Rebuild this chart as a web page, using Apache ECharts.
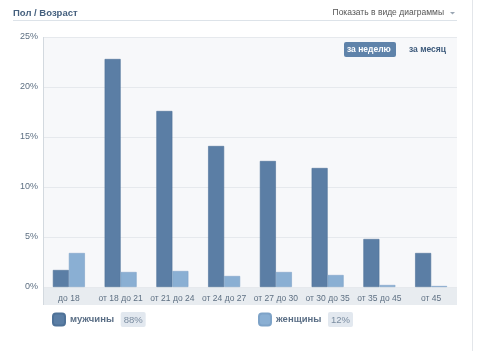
<!DOCTYPE html>
<html><head><meta charset="utf-8">
<script src="https://cdn.jsdelivr.net/npm/echarts@6/dist/echarts.min.js"></script>
<style>html,body{margin:0;padding:0;background:#fff}#c{width:500px;height:351px}</style>
</head><body><div id="c"></div>
<script>
const categories = ['до 18','от 18 до 21','от 21 до 24','от 24 до 27','от 27 до 30','от 30 до 35','от 35 до 45','от 45'];
const menValues = [1.7, 22.8, 17.6, 14.1, 12.6, 11.9, 4.8, 3.4];
const womenValues = [3.4, 1.5, 1.6, 1.1, 1.5, 1.2, 0.2, 0.1];
const seriesNames = ['мужчины','женщины'];
const seriesShares = ['88%','12%'];
const yTicks = [0,5,10,15,20,25];

const font = '"Liberation Sans", Arial, sans-serif';
const chart = echarts.init(document.getElementById('c'));
const shareMap = {}; seriesNames.forEach((n,i)=>shareMap[n]=seriesShares[i]);
function legendFor(name, left){
  return {
    data:[name], left:left, top:312, itemWidth:12, itemHeight:12, itemGap:4,
    icon:'roundRect', padding:0, selectedMode:false,
    formatter: n => '{n|'+n+'}  {p|'+shareMap[n]+'}',
    textStyle:{ rich:{
      n:{fontFamily:font,fontSize:9.5,fontWeight:'bold',color:'#5b6f86'},
      p:{fontFamily:font,fontSize:9.5,color:'#7a8ca0',backgroundColor:'#e2e8ef',padding:[3,3,2,3],borderRadius:2}
    }}
  };
}
chart.setOption({
  animation:false,
  grid:{left:43,right:43,top:37,bottom:64,show:true,backgroundColor:'#f7f8fa',borderWidth:0},
  legend:[legendFor(seriesNames[0],52), legendFor(seriesNames[1],258)],
  xAxis:{type:'category',data:categories,
    axisLine:{show:false},axisTick:{show:false},
    axisLabel:{fontFamily:font,fontSize:8.5,color:'#5d6f82',margin:7,interval:0}},
  yAxis:{type:'value',min:0,max:25,interval:5,
    axisLine:{show:false},axisTick:{show:false},
    splitLine:{lineStyle:{color:'#e6e9ed',width:1}},
    axisLabel:{fontFamily:font,fontSize:9,color:'#5d6f82',margin:5,formatter:v=>v+'%'}},
  series:[
    {name:seriesNames[0],type:'bar',data:menValues,barWidth:16,barGap:'0%',
      itemStyle:{color:'#5b7ea5',borderColor:'#4f7298',borderWidth:0.6}},
    {name:seriesNames[1],type:'bar',data:womenValues,barWidth:16,
      itemStyle:{color:'#8aafd3',borderColor:'#7ea3c8',borderWidth:0.6}}
  ],
  graphic:[
    {type:'rect',z:-1,silent:true,shape:{x:43,y:287,width:414,height:18},style:{fill:'#e8ecf0'}},
    {type:'line',z:5,silent:true,shape:{x1:43.5,y1:37,x2:43.5,y2:305},style:{stroke:'#d3d9df',lineWidth:1}},
    {type:'line',silent:true,shape:{x1:472.5,y1:0,x2:472.5,y2:351},style:{stroke:'#e3e6ea',lineWidth:1}},
    {type:'line',silent:true,shape:{x1:13,y1:20.5,x2:457,y2:20.5},style:{stroke:'#dde3e9',lineWidth:1}},
    {type:'text',left:13,top:8,style:{text:'Пол / Возраст',font:'bold 9.5px '+font,fill:'#45607e'}},
    {type:'text',right:56,top:8,style:{text:'Показать в виде диаграммы',font:'8.5px '+font,fill:'#555'}},
    {type:'polygon',shape:{points:[[450,12],[455,12],[452.5,14.5]]},style:{fill:'#9aa6b3'}},
    {type:'rect',z:10,shape:{x:344,y:42,width:52,height:15,r:2},style:{fill:'#5f83aa'}},
    {type:'text',z:11,left:347,top:45,style:{text:'за неделю',font:'bold 8.5px '+font,fill:'#fff'}},
    {type:'text',z:11,left:409,top:45,style:{text:'за месяц',font:'bold 8.5px '+font,fill:'#3d5a7b'}}
  ]
});
</script></body></html>
